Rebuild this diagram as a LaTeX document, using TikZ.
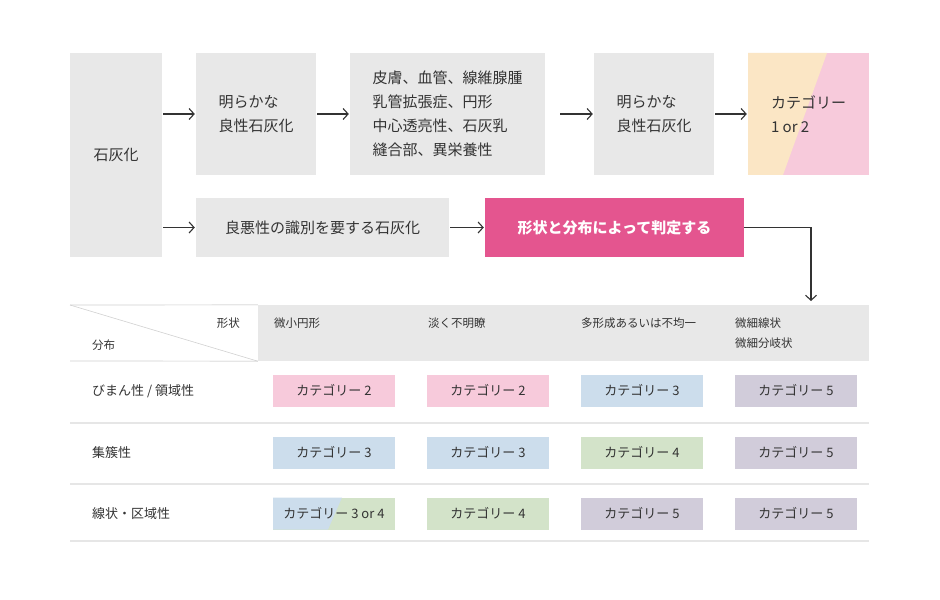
\documentclass[tikz,border=0pt]{standalone}
\usepackage{fontspec}
\setmainfont{Noto Sans CJK JP}
\usetikzlibrary{arrows.meta,calc}
\definecolor{boxgray}{HTML}{E8E8E8}
\definecolor{inkgray}{HTML}{333333}
\definecolor{linegray}{HTML}{E6E6E6}
\definecolor{judgepink}{HTML}{E4558F}
\definecolor{catyellow}{HTML}{FBE6C5}
\definecolor{catpink}{HTML}{F7CADB}
\definecolor{cellblue}{HTML}{CCDDEC}
\definecolor{cellgreen}{HTML}{D3E3C9}
\definecolor{cellpurple}{HTML}{D1CCDA}
\tikzset{
  grybox/.style={fill=boxgray, inner sep=0pt, align=left, text=inkgray, font=\fontsize{15bp}{24bp}\selectfont},
  cell/.style={minimum width=122bp, minimum height=32bp, inner sep=0pt, text=inkgray, font=\fontsize{13bp}{16bp}\selectfont},
  rowtext/.style={inner sep=0pt, anchor=west, text=inkgray, font=\fontsize{13bp}{16bp}\selectfont},
  hdtext/.style={inner sep=0pt, align=left, text=inkgray, font=\fontsize{11.5bp}{20bp}\selectfont},
  arr/.style={draw=inkgray, line width=1.1bp, shorten <=1bp, shorten >=1bp, -{Straight Barb[length=5bp,width=11bp]}},
  rowline/.style={draw=linegray, line width=1.2bp},
}

\begin{document}
\begin{tikzpicture}[x=1bp, y=-1bp]
			%%%%% START %%%%%
			\useasboundingbox[fill=white] (0,0) rectangle (940,600);
			
			% flow boxes
			\node[grybox, minimum width=92bp, minimum height=204bp] (stone) at (116,155) {石灰化};
			\node[grybox, minimum width=120bp, minimum height=122bp] (benign1) at (256,114) {明らかな\\良性石灰化};
			\node[grybox, minimum width=195bp, minimum height=122bp] (signs) at (447.5,114) {皮膚、血管、線維腺腫\\乳管拡張症、円形\\中心透亮性、石灰乳\\縫合部、異栄養性};
			\node[grybox, minimum width=120bp, minimum height=122bp] (benign2) at (654,114) {明らかな\\良性石灰化};
			\node[grybox, fill=catpink, minimum width=121bp, minimum height=122bp,
				path picture={\fill[catyellow] (path picture bounding box.north west) -- ([xshift=79bp]path picture bounding box.north west)
					-- ([xshift=35bp]path picture bounding box.south west) -- (path picture bounding box.south west) -- cycle;}]
				(cat12) at (808.5,114) {カテゴリー\\1 or 2};
			
			\node[grybox, minimum width=253bp, minimum height=59bp] (differ) at (322.5,227.5) {良悪性の識別を要する石灰化};
			\node[grybox, fill=judgepink, text=white, font=\fontsize{15bp}{24bp}\selectfont\bfseries, minimum width=259bp, minimum height=59bp] (judge) at (614.5,227.5) {形状と分布によって判定する};
			\coordinate (drop) at (811,302);
			
			\draw[arr] (stone.east |- benign1) -- (benign1);
			\draw[arr] (benign1) -- (signs);
			\draw[arr, shorten <=15bp] (signs) -- (benign2);
			\draw[arr] (benign2) -- (cat12);
			\draw[arr] (stone.east |- differ) -- (differ);
			\draw[arr] (differ) -- (judge);
			\draw[arr, shorten <=0bp] (judge.east) -| (drop);
			
			% table head
			\node[fill=boxgray, minimum width=611bp, minimum height=56bp, inner sep=0pt] (head) at (563.5,333) {};
			\coordinate (tl) at (70,305);
			\coordinate (bl) at (70,361);
			\draw[rowline] (tl) -- (head.north west);
			\draw[rowline] (bl) -- (head.south west);
			\draw[draw=black!18, line width=0.6bp] (tl) -- (head.south west);
			\node[hdtext, anchor=east] (shape) at (240,323) {形状};
			\node[hdtext, anchor=west] (dist) at (92,345) {分布};
			\node[hdtext, anchor=west] (h1) at (274,323) {微小円形};
			\node[hdtext, anchor=west] (h2) at (428,323) {淡く不明瞭};
			\node[hdtext, anchor=west] (h3) at (581,323) {多形成あるいは不均一};
			\node[hdtext, anchor=west] (h4) at (735,333) {微細線状\\微細分岐状};
			
			% rows
			\draw[rowline] (70,423) -- (869,423);
			\draw[rowline] (70,484) -- (869,484);
			\draw[rowline] (70,541) -- (869,541);
			\node[rowtext] (r1) at (92,391) {びまん性 / 領域性};
			\node[rowtext] (r2) at (92,452.5) {集簇性};
			\node[rowtext] (r3) at (92,514) {線状・区域性};
			
			\node[cell, fill=catpink] (c11) at (334,390.5) {カテゴリー 2};
			\node[cell, fill=catpink] (c12) at (488,390.5) {カテゴリー 2};
			\node[cell, fill=cellblue] (c13) at (642,390.5) {カテゴリー 3};
			\node[cell, fill=cellpurple] (c14) at (796,390.5) {カテゴリー 5};
			
			\node[cell, fill=cellblue] (c21) at (334,452.5) {カテゴリー 3};
			\node[cell, fill=cellblue] (c22) at (488,452.5) {カテゴリー 3};
			\node[cell, fill=cellgreen] (c23) at (642,452.5) {カテゴリー 4};
			\node[cell, fill=cellpurple] (c24) at (796,452.5) {カテゴリー 5};
			
			\node[cell, fill=cellgreen,
				path picture={\fill[cellblue] (path picture bounding box.north west) -- ([xshift=69bp]path picture bounding box.north west)
					-- ([xshift=55bp]path picture bounding box.south west) -- (path picture bounding box.south west) -- cycle;}]
				(c31) at (334,513.5) {カテゴリー 3 or 4};
			\node[cell, fill=cellgreen] (c32) at (488,513.5) {カテゴリー 4};
			\node[cell, fill=cellpurple] (c33) at (642,513.5) {カテゴリー 5};
			\node[cell, fill=cellpurple] (c34) at (796,513.5) {カテゴリー 5};
			
			%%%%% END %%%%%
\end{tikzpicture}
\end{document}
